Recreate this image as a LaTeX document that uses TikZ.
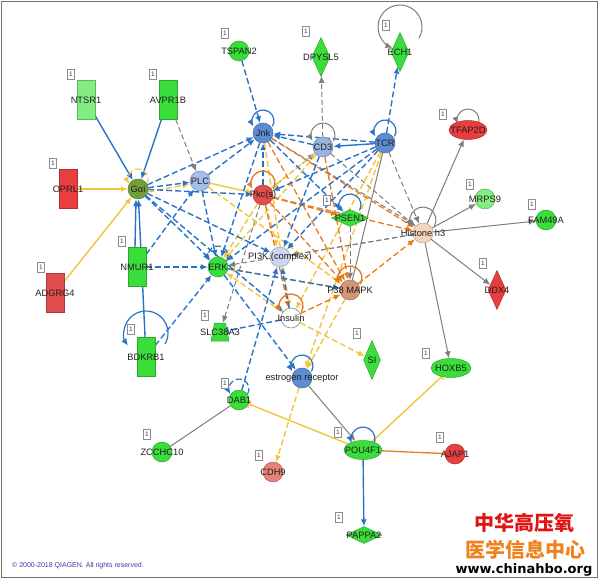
\documentclass[tikz,border=0pt]{standalone}
\usepackage{fontspec}
\setmainfont{Liberation Sans}
\newfontfamily\cjkf{Noto Sans CJK SC}
\newfontfamily\dvs{DejaVu Sans}
\usetikzlibrary{arrows.meta,shapes.geometric,backgrounds}
\definecolor{cblue}{RGB}{40,115,200}
\definecolor{cyel}{RGB}{244,196,64}
\definecolor{corg}{RGB}{232,122,30}
\definecolor{cgry}{RGB}{125,125,125}
\definecolor{ggreen}{RGB}{58,222,58}
\definecolor{glight}{RGB}{130,238,130}
\definecolor{gred}{RGB}{234,62,62}
\definecolor{gred2}{RGB}{226,78,78}
\definecolor{gsal}{RGB}{230,130,120}
\definecolor{nblue}{RGB}{92,140,210}
\definecolor{nblue2}{RGB}{150,180,225}
\definecolor{nplc}{RGB}{165,190,235}
\definecolor{npik}{RGB}{205,215,242}
\definecolor{npeach}{RGB}{246,212,188}
\definecolor{npmap}{RGB}{212,150,118}
\definecolor{npkc}{RGB}{226,78,78}
\definecolor{ngai}{RGB}{112,160,60}
\definecolor{wmred}{RGB}{225,20,20}
\definecolor{wmorg}{RGB}{240,130,30}
\definecolor{cpy}{RGB}{60,60,170}
\tikzset{
 lab/.style={font=\fontsize{9.3}{10}\selectfont, text=black!88, inner sep=0pt},
 nd/.style={draw=#1!75!black, fill=#1, line width=0.5pt, inner sep=0pt},
 circ/.style={nd=#1, circle, minimum size=20pt},
 box/.style={nd=#1, rectangle, minimum width=18pt, minimum height=39pt},
 dia/.style={nd=#1, diamond, minimum width=18pt, minimum height=39pt},
 fdia/.style={nd=#1, diamond, minimum width=37pt, minimum height=17pt},
 ell/.style={nd=#1, ellipse, minimum width=38pt, minimum height=19pt},
 trap/.style={nd=#1, trapezium, trapezium angle=72, trapezium stretches=true, inner sep=3pt, minimum width=18pt, minimum height=18pt},
 badge/.style={draw=black!45, fill=white, font=\fontsize{6.5}{6.5}\selectfont, inner sep=1pt, minimum width=7pt, minimum height=10pt, text=black!75},
 arrowtip/.style={-{Latex[length=7pt,width=6pt]}},
 dsh/.style={dash pattern=on 6pt off 3pt},
 bs/.style={draw=cblue, line width=1.4pt, arrowtip},
 bd/.style={bs, dsh},
 ys/.style={draw=cyel, line width=1.4pt, arrowtip},
 yd/.style={ys, dsh},
 os/.style={draw=corg, line width=1.3pt, arrowtip},
 od/.style={os, dsh},
 gs/.style={draw=cgry, line width=1pt, arrowtip},
 gd/.style={gs, dash pattern=on 5pt off 3pt},
}
\newcommand\sloop[5]{\draw[#1] ([shift={({#4*cos(-30)},{#3+#4*sin(-30)})}]#2.center) arc[start angle=-30,end angle=#5,radius=#4];}
\begin{document}
\begin{tikzpicture}[x=1pt,y=1pt]
\useasboundingbox (0,0) rectangle (600,-580);
% ---------- nodes ----------
\node[box=glight, label={[lab]center:NTSR1}] (NTSR1) at (86,-100) {};
\node[box=ggreen, label={[lab]center:AVPR1B}] (AVPR1B) at (168,-100) {};
\node[box=gred, label={[lab]center:OPRL1}] (OPRL1) at (68,-189) {};
\node[box=gred2, label={[lab]center:ADGRG4}] (ADGRG4) at (55,-293) {};
\node[box=ggreen, label={[lab]center:NMUR1}] (NMUR1) at (137,-267) {};
\node[box=ggreen, label={[lab]center:BDKRB1}] (BDKRB1) at (146,-357) {};
\node[circ=ngai, label={[lab]center:Gαi}] (Gai) at (138,-189) {};
\node[circ=nplc, label={[lab]center:PLC}] (PLC) at (200,-181) {};
\node[circ=nblue, label={[lab]center:Jnk}] (Jnk) at (263,-133) {};
\node[circ=nblue2, label={[lab]center:CD3}] (CD3) at (323,-147) {};
\node[circ=nblue, label={[lab]center:TCR}] (TCR) at (385,-143) {};
\node[circ=ggreen, label={[lab]center:TSPAN2}] (TSPAN2) at (239,-51) {};
\node[dia=ggreen, label={[lab]center:DPYSL5}] (DPYSL5) at (321,-57) {};
\node[dia=ggreen, label={[lab]center:ECH1}] (ECH1) at (400,-52) {};
\node[ell=gred, label={[lab]center:TFAP2D}] (TFAP2D) at (468,-130) {};
\node[circ=glight, label={[lab]center:MRPS9}] (MRPS9) at (485,-199) {};
\node[circ=ggreen, label={[lab]center:FAM49A}] (FAM49A) at (546,-220) {};
\node[dia=gred, label={[lab]center:DDX4}] (DDX4) at (497,-290) {};
\node[ell=ggreen, minimum width=40pt, label={[lab]center:HOXB5}] (HOXB5) at (451,-368) {};
\node[circ=npeach, label={[lab]center:Histone h3}] (Hist) at (423,-233) {};
\node[fdia=ggreen, label={[lab]center:PSEN1}] (PSEN1) at (350,-218) {};
\node[circ=npkc, label={[lab]center:Pkc(s)}] (Pkc) at (263,-195) {};
\node[circ=npik, label={[lab]center:PI3K (complex)}] (PI3K) at (280,-257) {};
\node[circ=npmap, label={[lab]center:P38 MAPK}] (P38) at (350,-290) {};
\node[circ=ggreen, label={[lab]center:ERK}] (ERK) at (218,-267) {};
\node[circ=white, draw=cgry, label={[lab]center:Insulin}] (Ins) at (291,-318) {};
\node[trap=ggreen, label={[lab]center:SLC38A3}] (SLC) at (220,-332) {};
\node[dia=ggreen, minimum width=17pt, label={[lab]center:SI}] (SI) at (372,-360) {};
\node[circ=nblue, label={[lab]center:estrogen receptor}] (ER) at (302,-378) {};
\node[circ=ggreen, label={[lab]center:DAB1}] (DAB1) at (239,-400) {};
\node[circ=ggreen, label={[lab]center:ZCCHC10}] (ZCCHC10) at (162,-452) {};
\node[circ=gsal, label={[lab]center:CDH9}] (CDH9) at (273,-472) {};
\node[ell=ggreen, label={[lab]center:POU4F1}] (POU4F1) at (363,-450) {};
\node[circ=gred, label={[lab]center:AJAP1}] (AJAP1) at (455,-454) {};
\node[fdia=ggreen, minimum width=36pt, label={[lab]center:PAPPA2}] (PAPPA2) at (364,-535) {};
% ---------- badges ----------
\node[badge] (b1) at (71,-74) {1};
\node[badge] (b2) at (153,-74) {1};
\node[badge] (b3) at (53,-163) {1};
\node[badge] (b4) at (41,-267) {1};
\node[badge] (b5) at (122,-241) {1};
\node[badge] (b6) at (131,-329) {1};
\node[badge] (b7) at (225,-33) {1};
\node[badge] (b8) at (306,-31) {1};
\node[badge] (b9) at (386,-25) {1};
\node[badge] (b10) at (443,-114) {1};
\node[badge] (b11) at (470,-184) {1};
\node[badge] (b12) at (532,-204) {1};
\node[badge] (b13) at (483,-263) {1};
\node[badge] (b14) at (426,-353) {1};
\node[badge] (b15) at (327,-200) {1};
\node[badge] (b16) at (205,-315) {1};
\node[badge] (b17) at (357,-333) {1};
\node[badge] (b18) at (225,-383) {1};
\node[badge] (b19) at (147,-434) {1};
\node[badge] (b20) at (259,-455) {1};
\node[badge] (b21) at (338,-432) {1};
\node[badge] (b22) at (440,-437) {1};
\node[badge] (b23) at (339,-517) {1};
% ---------- texts ----------
\node[anchor=west, font=\fontsize{7}{8}\selectfont, text=cpy, inner sep=0] (cpy) at (12,-566) {© 2000-2018 QIAGEN. All rights reserved.};
\node[font=\cjkf\bfseries\fontsize{20}{20}\selectfont, text=wmred, inner sep=0] (wm1) at (524,-523) {中华高压氧};
\node[font=\cjkf\bfseries\fontsize{20}{20}\selectfont, text=wmorg, inner sep=0] (wm2) at (525,-550) {医学信息中心};
\node[font=\dvs\bfseries\fontsize{13}{13}\selectfont, text=black, inner sep=0] (wm3) at (524,-570) {www.chinahbo.org};
% ---------- edges ----------
\begin{scope}[on background layer]
\fill[white] (0,0) rectangle (600,-580);
\draw[black!55, line width=1pt] (1.5,-1.5) rectangle (597.5,-577.5);
% grey dashed
\draw[gd] (AVPR1B) -- (PLC);
\draw[gd] (CD3) -- (DPYSL5);
\draw[gd] (Pkc) -- (SLC);
\draw[gd] (Hist) -- (ERK);
\draw[gd] (Hist) -- (PI3K);
\draw[gd] (TCR) -- (Hist);
\draw[gd] (CD3) -- (Hist);
\draw[gd] (Jnk) -- (Hist.north west);
\draw[gd] (Pkc) -- (CD3);
\draw[gd] (PSEN1) -- (P38);
% grey solid
\draw[gs] (Hist) -- (TFAP2D);
\draw[gs] (Hist) -- (MRPS9);
\draw[gs] (Hist) -- (FAM49A);
\draw[gs] (Hist) -- (DDX4);
\draw[gs] (Hist) -- (HOXB5);
\draw[gs] (ER) -- (POU4F1);
\draw[draw=cgry, line width=1pt] (DAB1) -- (ZCCHC10);
\draw[draw=cgry, line width=1pt] (TCR) -- (P38);
% yellow dashed
\draw[yd] ([yshift=-3pt]Gai.east) -- ([yshift=-3pt]PLC.west);
\draw[yd] (Pkc) -- (ERK);
\draw[yd] (CD3) -- (ERK);
\draw[yd] (TCR) -- (ER);
\draw[yd] (TCR) -- (Ins);
\draw[yd] (Jnk) -- (Ins);
\draw[yd] (P38) -- (ER);
\draw[yd] (Ins) -- (SI);
\draw[yd] (ER) -- (CDH9);
\draw[yd] (Ins) -- (ERK);
\draw[yd] (P38) -- (ERK);
\draw[yd] (PLC) -- (P38);
\draw[yd] (Pkc) -- (PI3K);
\draw[yd] (CD3) -- (Pkc);
% yellow solid
\draw[ys] (OPRL1) -- (Gai);
\draw[ys] (ADGRG4) -- (Gai);
\draw[ys] (PLC) -- (Pkc);
\draw[draw=cyel, line width=1.4pt, -{Bar[width=8pt]}] (POU4F1) -- (DAB1);
\draw[draw=cyel, line width=1.4pt, -{Bar[width=8pt]}] (POU4F1) -- (HOXB5);
% orange
\draw[od] (Pkc) -- (P38);
\draw[od] (Pkc) -- (Hist);
\draw[od] (Jnk) -- (P38);
\draw[od] (Jnk) -- (Hist);
\draw[od] (Ins) -- (P38);
\draw[od] (P38) -- (Hist);
\draw[od] (CD3) -- (P38);
\draw[od] (Pkc) -- (Ins);
\draw[od] (Pkc) -- (PSEN1);
\draw[draw=corg, line width=1.3pt] (POU4F1) -- (AJAP1);
% blue dashed
\draw[bd] (TSPAN2) -- (Jnk);
\draw[bd] (Gai) -- (Jnk);
\draw[bd] (PLC) -- (Jnk);
\draw[bd] (Gai) -- (PLC);
\draw[bd] (Gai) -- (Pkc);
\draw[bd] (Gai) -- (ERK);
\draw[bd] (Gai) -- (PI3K);
\draw[bd] (Gai) -- (Ins);
\draw[bd] (NMUR1) -- (ERK);
\draw[bd] (NMUR1) -- (PLC);
\draw[bd] (BDKRB1) -- (ERK);
\draw[bd] (TCR) -- (Jnk);
\draw[bd] (CD3) -- (Jnk);
\draw[bd] (TCR) -- (ECH1);
\draw[bd] (TCR) -- (ERK);
\draw[bd] (TCR) -- (Pkc);
\draw[bd] (TCR) -- (PI3K);
\draw[bd] (PLC) -- (ERK);
\draw[bd] (Pkc) -- (Jnk);
\draw[bd] (Jnk) -- (ERK);
\draw[bd] (Jnk) -- (PSEN1);
\draw[bd] (ERK) -- (ER);
\draw[bd] (DAB1) -- (PI3K);
\draw[bd] (Ins) -- (PI3K);
\draw[draw=cblue, line width=1.4pt, dsh, -{Bar[width=7pt]}] (Ins) -- (SLC);
\draw[bd] (ERK) -- (P38);
\draw[bd] (CD3) -- (PI3K);
% blue solid
\draw[bs] (NTSR1) -- (Gai);
\draw[bs] (AVPR1B) -- (Gai);
\draw[bs] ([xshift=-2pt]NMUR1.north) -- ([xshift=-2pt]Gai.south);
\draw[bs] (BDKRB1) -- (Gai);
\draw[bs] (TCR) -- (CD3);
\draw[bs] (POU4F1) -- (PAPPA2);
% self loops
\sloop{bs, line width=1.2pt}{Jnk}{12}{11}{210}
\sloop{bs, line width=1.2pt}{TCR}{12}{11}{210}
\sloop{gs}{CD3}{12}{12}{210}
\sloop{bd, line width=1.2pt}{ERK}{11}{10}{210}
\sloop{os}{Pkc}{12}{12}{210}
\sloop{os}{P38}{12}{12}{210}
\sloop{os}{Ins}{12}{12}{210}
\sloop{gs}{Hist}{13}{13}{210}
\sloop{gs}{TFAP2D}{10}{11}{200}
\sloop{gs}{ECH1}{25}{22}{250}
\sloop{bs, line width=1.2pt}{BDKRB1}{24}{22}{215}
\sloop{bs, line width=1.2pt}{PSEN1}{13}{11}{210}
\sloop{bs, line width=1.2pt}{ER}{12}{11}{210}
\sloop{bd, line width=1.2pt}{DAB1}{11}{10}{210}
\sloop{bs, line width=1.2pt}{POU4F1}{11}{12}{200}
\sloop{yd, line width=1.2pt}{Gai}{10}{10}{210}
\end{scope}
\end{tikzpicture}
\end{document}
